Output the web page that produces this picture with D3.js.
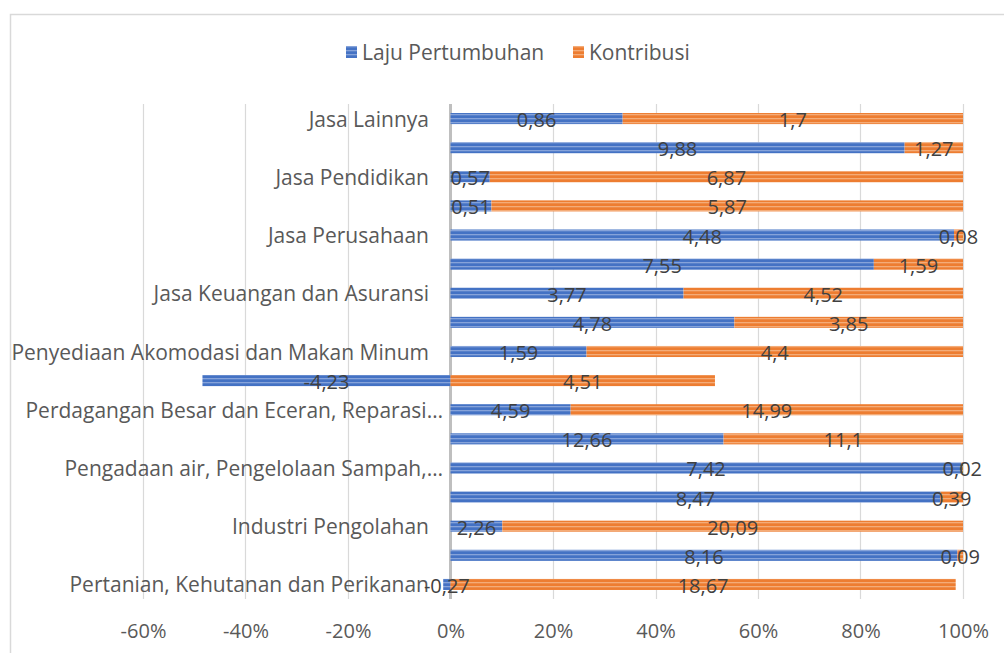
<!DOCTYPE html>
<html><head><meta charset="utf-8">
<script src="https://cdn.jsdelivr.net/npm/d3@7"></script>
<style>body{margin:0;background:#fff}svg{display:block;font-family:"Open Sans","Noto Sans",sans-serif}</style>
</head><body><svg id="c" width="1004" height="653"></svg>
<script>
// Data (bottom to top)
const categories = [
  "Pertanian, Kehutanan dan Perikanan",
  "Pertambangan dan Penggalian",
  "Industri Pengolahan",
  "Pengadaan Listrik dan Gas",
  "Pengadaan air, Pengelolaan Sampah, Limbah dan Daur Ulang",
  "Konstruksi",
  "Perdagangan Besar dan Eceran, Reparasi Mobil dan Sepeda Motor",
  "Transportasi dan Pergudangan",
  "Penyediaan Akomodasi dan Makan Minum",
  "Informasi dan Komunikasi",
  "Jasa Keuangan dan Asuransi",
  "Real Estate",
  "Jasa Perusahaan",
  "Administrasi Pemerintahan, Pertahanan dan Jaminan Sosial Wajib",
  "Jasa Pendidikan",
  "Jasa Kesehatan dan Kegiatan Sosial",
  "Jasa Lainnya"
];
const tickLabels = [
  "Pertanian, Kehutanan dan Perikanan", "",
  "Industri Pengolahan", "",
  "Pengadaan air, Pengelolaan Sampah,…", "",
  "Perdagangan Besar dan Eceran, Reparasi…", "",
  "Penyediaan Akomodasi dan Makan Minum", "",
  "Jasa Keuangan dan Asuransi", "",
  "Jasa Perusahaan", "",
  "Jasa Pendidikan", "",
  "Jasa Lainnya"
];
const lajuPertumbuhan = [-0.27, 8.16, 2.26, 8.47, 7.42, 12.66, 4.59, -4.23, 1.59, 4.78, 3.77, 7.55, 4.48, 0.51, 0.57, 9.88, 0.86];
const kontribusi      = [18.67, 0.09, 20.09, 0.39, 0.02, 11.1, 14.99, 4.51, 4.4, 3.85, 4.52, 1.59, 0.08, 5.87, 6.87, 1.27, 1.7];
const seriesNames = ["Laju Pertumbuhan", "Kontribusi"];
const xTicks = [-0.6, -0.4, -0.2, 0, 0.2, 0.4, 0.6, 0.8, 1.0];

const svg = d3.select("#c");
const defs = svg.append("defs");
function stripe(id, dark, light) {
  const p = defs.append("pattern").attr("id", id).attr("patternUnits", "userSpaceOnUse")
    .attr("width", 8).attr("height", 4);
  p.append("rect").attr("width", 8).attr("height", 4).attr("fill", dark);
  p.append("rect").attr("y", 2).attr("width", 8).attr("height", 1.3).attr("fill", light);
}
stripe("pb", "#4472C4", "#86A3DA");
stripe("po", "#ED7D31", "#F4AC78");
const fills = ["url(#pb)", "url(#po)"];

// border
svg.append("rect").attr("x", 10.5).attr("y", 14.5).attr("width", 1010).attr("height", 700)
  .attr("fill", "none").attr("stroke", "#d9d9d9").attr("stroke-width", 1.5);

const x = d3.scaleLinear().domain([-0.6, 1.0]).range([143, 963]);
const y = d3.scaleBand().domain(categories.slice().reverse()).range([104, 599])
  .paddingInner(0.62).paddingOuter(0.31);

const FS_TEXT = 21, FS_NUM = 20;

// gridlines
svg.append("g").selectAll("line").data(xTicks.filter(d => d !== 0)).join("line")
  .attr("x1", d => Math.round(x(d)) + 0.5).attr("x2", d => Math.round(x(d)) + 0.5)
  .attr("y1", 104).attr("y2", 599).attr("stroke", "#d9d9d9").attr("stroke-width", 1.2);

// x axis labels
const xa = svg.append("g").attr("transform", "translate(0,630)")
  .call(d3.axisBottom(x).tickValues(xTicks).tickSize(0).tickFormat(d3.format(".0%")));
xa.select(".domain").remove();
xa.selectAll("text").attr("fill", "#595959").attr("font-size", FS_NUM).attr("dy", null)
  .attr("font-family", "'Open Sans', sans-serif")
  .attr("y", 0).attr("dominant-baseline", "central").text(d => Math.round(d * 100) + "%");

// zero line
svg.append("line").attr("x1", x(0)).attr("x2", x(0)).attr("y1", 104).attr("y2", 599)
  .attr("stroke", "#bfbfbf").attr("stroke-width", 3);

// compute 100% stacked (abs-sum normalization)
const rows = categories.map((c, i) => {
  const vals = [lajuPertumbuhan[i], kontribusi[i]];
  const tot = d3.sum(vals, Math.abs);
  let pos = 0, neg = 0;
  return vals.map((v, k) => {
    const p = v / tot;
    let x0, x1;
    if (p >= 0) { x0 = pos; x1 = pos + p; pos = x1; } else { x1 = neg; x0 = neg + p; neg = x0; }
    return { c, k, v, x0, x1 };
  });
});
const segs = rows.flat();

svg.append("g").selectAll("rect").data(segs).join("rect")
  .attr("x", d => x(d.x0)).attr("width", d => Math.max(0, x(d.x1) - x(d.x0)))
  .attr("y", d => y(d.c)).attr("height", y.bandwidth())
  .attr("fill", d => fills[d.k]);

// category labels (truncated labels let the ellipsis overhang)
svg.append("g").selectAll("text").data(categories).join("text")
  .attr("x", (d, i) => tickLabels[i].endsWith("…") ? 443 : 429)
  .attr("y", d => y(d) + y.bandwidth() / 2)
  .attr("text-anchor", "end").attr("dominant-baseline", "central")
  .attr("font-size", FS_TEXT).attr("fill", "#595959")
  .text((d, i) => tickLabels[i]);

// data labels
svg.append("g").selectAll("text").data(segs).join("text")
  .attr("x", d => (x(d.x0) + x(d.x1)) / 2).attr("y", d => y(d.c) + y.bandwidth() / 2 + 1)
  .attr("text-anchor", "middle").attr("dominant-baseline", "central")
  .attr("font-size", FS_NUM).attr("fill", "#404040")
  .text(d => String(d.v).replace(".", ","));

// legend
const lg = svg.append("g");
const lx = [346, 573];
seriesNames.forEach((s, i) => {
  lg.append("rect").attr("x", lx[i]).attr("y", 46).attr("width", 11).attr("height", 12).attr("fill", fills[i]);
  lg.append("text").attr("x", lx[i] + 16).attr("y", 52).attr("dominant-baseline", "central")
    .attr("font-size", FS_TEXT).attr("fill", "#595959").text(s);
});
</script></body></html>
